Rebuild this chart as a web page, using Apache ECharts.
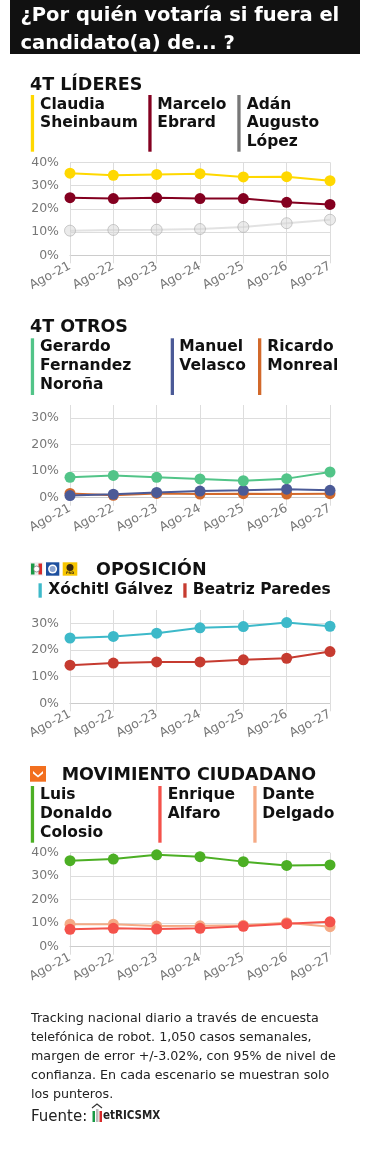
<!DOCTYPE html>
<html><head><meta charset="utf-8">
<script src="https://cdn.jsdelivr.net/npm/echarts@6/dist/echarts.min.js"></script>
<style>html,body{margin:0;padding:0;background:#fff}#c{width:370px;height:1170px}</style>
</head><body><div id="c"></div>
<script>
// ---- data ----
const categories = ['Ago-21','Ago-22','Ago-23','Ago-24','Ago-25','Ago-26','Ago-27'];
// 4T LÍDERES
const claudia = [35.3,34.4,34.8,35.1,33.7,33.8,32.1];
const marcelo = [24.8,24.4,24.7,24.4,24.4,22.8,21.9];
const adan    = [10.6,10.9,11.0,11.3,12.2,13.8,15.3];
// 4T OTROS
const gerardo = [7.7,8.4,7.7,7.1,6.4,7.2,9.7];
const manuel  = [0.8,1.3,2.0,2.5,2.8,3.2,2.8];
const ricardo = [1.6,0.9,1.6,1.4,1.5,1.4,1.5];
// OPOSICIÓN
const xochitl = [24.5,25.1,26.3,28.3,28.8,30.3,28.9];
const beatriz = [14.3,15.1,15.5,15.5,16.3,16.9,19.4];
// MOVIMIENTO CIUDADANO
const luis    = [36.6,37.3,39.1,38.3,36.2,34.6,34.8];
const enrique = [7.4,7.8,7.5,7.8,8.7,9.8,10.6];
const dante   = [9.6,9.6,8.8,8.9,9.1,10.2,8.5];

const titleLines = ['¿Por quién votaría si fuera el','candidato(a) de... ?'];
const footerLines = ['Tracking nacional diario a través de encuesta','telefónica de robot. 1,050 casos semanales,','margen de error +/-3.02%, con 95% de nivel de','confianza. En cada escenario se muestran solo','los punteros.'];

// ---- layout ----
const FONT = 'DejaVu Sans';
const grids = [
  {top:162.3, height:93, max:40},
  {top:405,   height:92.7, max:35},
  {top:610,   height:93.3, max:35},
  {top:852.7, height:94, max:40}
];
const chart = echarts.init(document.getElementById('c'), null, {renderer:'canvas'});

const xAxes = grids.map((g,i)=>({
  type:'category', gridIndex:i, data:categories, boundaryGap:false,
  axisLine:{show:true, lineStyle:{color:'#ccc'}},
  axisTick:{show:true, length:8, lineStyle:{color:'#ddd'}},
  splitLine:{show:true, lineStyle:{color:'#ddd'}},
  axisLabel:{rotate:28, color:'#777', fontFamily:FONT, fontSize:12.5, margin:10, interval:0}
}));
const yAxes = grids.map((g,i)=>({
  type:'value', gridIndex:i, min:0, max:g.max, interval:10,
  axisLine:{show:false}, axisTick:{show:false},
  splitLine:{show:true, lineStyle:{color: g.max===35 ? ['#ddd','#ddd','#ddd','#ddd','rgba(0,0,0,0)'] : '#ddd'}},
  axisLabel:{color:'#777', fontFamily:FONT, fontSize:12.5, margin:11,
    formatter:v=> (v%10===0 ? v+'%' : '')}
}));
function line(data, gi, color, opts){
  opts = opts||{};
  return {
    type:'line', xAxisIndex:gi, yAxisIndex:gi, data:data,
    symbol:'circle', symbolSize:11, showSymbol:true,
    lineStyle:{color: opts.lineColor||color, width:2},
    itemStyle:{color: opts.fill||color, borderColor: opts.border||color, borderWidth: opts.bw||0},
    z: opts.z||2, animation:false, silent:true
  };
}
const series = [
  line(adan,0,'#ccc',{lineColor:'rgba(190,190,190,0.45)', fill:'rgba(215,215,215,0.5)', border:'rgba(170,170,170,0.6)', bw:1, z:1}),
  line(marcelo,0,'#840020'),
  line(claudia,0,'#FFD800'),
  line(ricardo,1,'#D2692B'),
  line(manuel,1,'#4B5A97'),
  line(gerardo,1,'#52C488'),
  line(beatriz,2,'#C63B30'),
  line(xochitl,2,'#3DB9C9'),
  line(dante,3,'#F5AA85'),
  line(enrique,3,'#F4524B'),
  line(luis,3,'#4CAF24')
];

// graphic elements
const G = [];
G.push({type:'rect', shape:{x:10,y:0,width:350,height:54}, style:{fill:'#111'}});
titleLines.forEach((t,i)=>G.push({type:'text', x:20.5, y:[15.5,43.5][i], style:{text:t, fill:'#fff', font:'bold 19.5px '+FONT, textVerticalAlign:'middle'}}));

function heading(text,x,y){ G.push({type:'text', x:x, y:y, style:{text:text, fill:'#111', font:'bold 17.5px '+FONT, textVerticalAlign:'middle'}}); }
function legendItem(lines, barX, textX, y0, y1, lineYs, color){
  G.push({type:'rect', shape:{x:barX, y:y0, width:3.3, height:y1-y0}, style:{fill:color}});
  lines.forEach((t,i)=>G.push({type:'text', x:textX, y:lineYs[i], style:{text:t, fill:'#111', font:'bold 15.5px '+FONT, textVerticalAlign:'middle'}}));
}
// panel 1
heading('4T LÍDERES',30,85);
const L1 = [104.5,123,141.7];
legendItem(['Claudia','Sheinbaum'],30.8,40,95,151.7,L1,'#FFD800');
legendItem(['Marcelo','Ebrard'],148.3,157.3,95,151.7,L1,'#840020');
legendItem(['Adán','Augusto','López'],237.3,246.7,95,151.7,L1,'#777');
// panel 2
heading('4T OTROS',30,327.3);
const L2 = [347.3,366,385];
legendItem(['Gerardo','Fernandez','Noroña'],30.8,40,338.3,395,L2,'#52C488');
legendItem(['Manuel','Velasco'],170.7,179.3,338.3,395,L2,'#4B5A97');
legendItem(['Ricardo','Monreal'],258,267.3,338.3,395,L2,'#D2692B');
// panel 3 logos
G.push({type:'rect', shape:{x:30,y:562.3,width:13.3,height:13.4}, style:{fill:'#eee'}});
G.push({type:'rect', shape:{x:31,y:563.5,width:3.5,height:11}, style:{fill:'#1a9a46'}});
G.push({type:'rect', shape:{x:38.5,y:563.5,width:3.5,height:11}, style:{fill:'#d62a2a'}});
G.push({type:'circle', shape:{cx:36.6,cy:569,r:3}, style:{fill:'#fff', stroke:'#555', lineWidth:0.6}});
G.push({type:'rect', shape:{x:46,y:562.3,width:13.3,height:13.4}, style:{fill:'#1d4f9e'}});
G.push({type:'circle', shape:{cx:52.6,cy:569,r:4.5}, style:{fill:'#fff'}});
G.push({type:'circle', shape:{cx:52.6,cy:569,r:3}, style:{fill:'#8aa3cf'}});
G.push({type:'rect', shape:{x:62.7,y:562.3,width:14.6,height:13.4}, style:{fill:'#f7c600'}});
G.push({type:'circle', shape:{cx:70,cy:567.5,r:3.5}, style:{fill:'#3a2a10'}});
G.push({type:'text', x:70, y:573.5, style:{text:'PRD', fill:'#3a2a10', font:'bold 3.5px '+FONT, textAlign:'center', textVerticalAlign:'middle'}});
heading('OPOSICIÓN',96,570);
legendItem(['Xóchitl Gálvez'],38.5,48.3,583.3,597.7,[590],'#3DB9C9');
legendItem(['Beatriz Paredes'],183.3,192.7,583.3,597.7,[590],'#C63B30');
// panel 4
G.push({type:'rect', shape:{x:30,y:766,width:16,height:15.7}, style:{fill:'#F26F1F'}});
G.push({type:'polygon', shape:{points:[[33,771],[38,775.5],[43,771],[43,773.5],[38,777.5],[33,773.5]]}, style:{fill:'#fff'}});
heading('MOVIMIENTO CIUDADANO',61.7,775);
const L4 = [795,814,832.7];
legendItem(['Luis','Donaldo','Colosio'],30.8,40,786,842.7,L4,'#4CAF24');
legendItem(['Enrique','Alfaro'],158.3,167.7,786,842.7,L4,'#F4524B');
legendItem(['Dante','Delgado'],253.3,262.3,786,842.7,L4,'#F5AA85');
// footer
footerLines.forEach((t,i)=>G.push({type:'text', x:31, y:1018.3+i*19.2, style:{text:t, fill:'#222', font:'12.7px '+FONT, textVerticalAlign:'middle'}}));
G.push({type:'text', x:31, y:1116.7, style:{text:'Fuente:', fill:'#222', font:'15px '+FONT, textVerticalAlign:'middle'}});
// metrics logo
G.push({type:'rect', shape:{x:92.5,y:1111,width:2.5,height:11}, style:{fill:'#1a9a46'}});
G.push({type:'rect', shape:{x:96,y:1109,width:2.5,height:13}, style:{fill:'#bbb'}});
G.push({type:'rect', shape:{x:99.5,y:1111,width:2.5,height:11}, style:{fill:'#d62a2a'}});
G.push({type:'polyline', shape:{points:[[92,1108],[97,1104],[102,1108]]}, style:{stroke:'#333', lineWidth:1.2, fill:null}});
G.push({type:'text', x:103, y:1116.5, style:{text:'etRICSMX', fill:'#222', font:'bold 11.5px "DejaVu Sans Condensed"', textVerticalAlign:'middle'}});

chart.setOption({
  backgroundColor:'#fff',
  animation:false,
  grid: grids.map(g=>({left:70, width:260, top:g.top, height:g.height})),
  xAxis: xAxes,
  yAxis: yAxes,
  series: series,
  graphic: G
});
</script></body></html>
